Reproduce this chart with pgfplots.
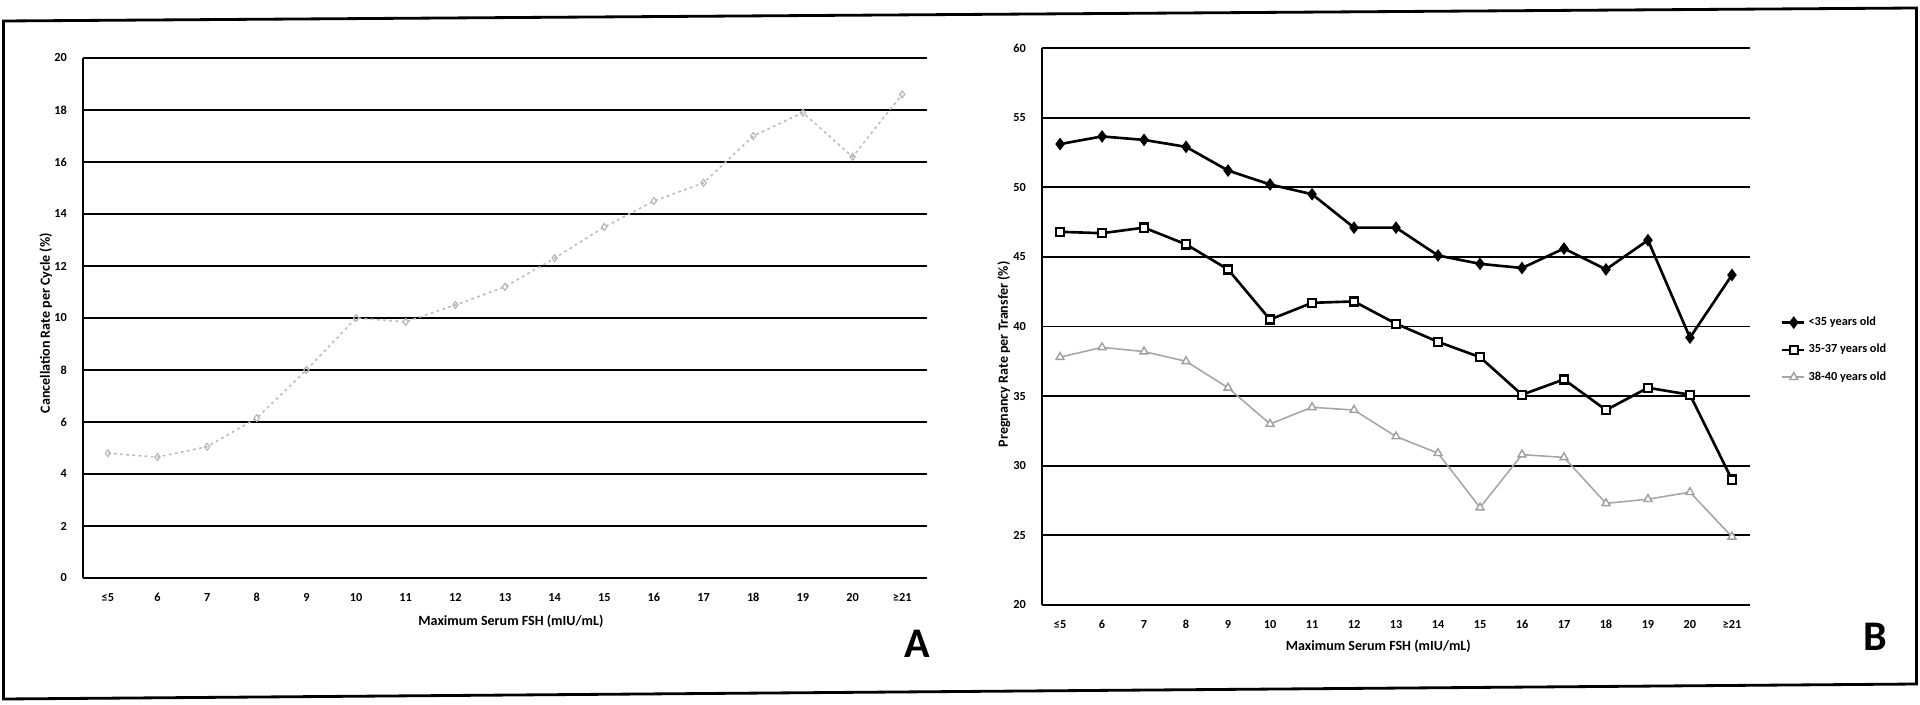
\documentclass[border=0pt]{standalone}
\usepackage{fontspec}
\setmainfont{Carlito}
\usepackage{pgfplots}
\pgfplotsset{compat=1.18}

\pgfplotsset{
  panel/.style={
    scale only axis,
    axis y line=left, axis x line=bottom,
    axis line style={-, line width=1.1pt},
    ymajorgrids, grid style={black, line width=1.1pt},
    major tick length=0pt,
    xtick={0,...,16},
    xticklabels={≤5,6,7,8,9,10,11,12,13,14,15,16,17,18,19,20,≥21},
    tick label style={font=\bfseries\fontsize{7}{8}\selectfont},
    xticklabel style={yshift=-0.18cm},
    yticklabel style={xshift=-0.2cm},
    label style={font=\bfseries\fontsize{8}{9}\selectfont},
    /pgf/number format/assume math mode=true,
    xlabel={Maximum Serum FSH (mIU/mL)},
  }
}

\begin{document}
\begin{tikzpicture}
\path[use as bounding box] (0,0) rectangle (38.4cm,14.08cm);
\draw[line width=1.6pt] (0.07cm,13.66cm) -- (38.33cm,13.92cm) -- (38.33cm,0.4cm) -- (0.07cm,0.1cm) -- cycle;

% panel A
\begin{axis}[panel,
  at={(1.66cm,2.52cm)}, anchor=south west,
  width=16.88cm, height=10.4cm,
  xmin=-0.5, xmax=16.5, ymin=0, ymax=20,
  ytick={0,2,...,20},
  ylabel={Cancellation Rate per Cycle (\%)},
  ylabel style={at={(axis description cs:-0.044,0.49)}, anchor=center},
  xlabel style={at={(axis description cs:0.507,-0.083)}, anchor=center},
]
\addplot[gray!55, line width=0.9pt, dash pattern=on 1.5pt off 2pt,
  mark=diamond, mark size=2pt, mark options={solid, gray!60, line width=0.6pt}]
  coordinates {
  (0,4.8) (1,4.65) (2,5.05) (3,6.15) (4,8.0) (5,10.0) (6,9.85) (7,10.5)
  (8,11.2) (9,12.3) (10,13.5) (11,14.5) (12,15.2) (13,17.0) (14,17.9)
  (15,16.2) (16,18.6)
};
\end{axis}
\node[font=\bfseries\fontsize{24}{24}\selectfont] at (18.34cm,1.2cm) {A};

% panel B
\begin{axis}[panel,
  at={(20.84cm,1.98cm)}, anchor=south west,
  width=14.16cm, height=11.14cm,
  xmin=-0.43, xmax=16.43, ymin=20, ymax=60,
  ytick={20,25,...,60},
  ylabel={Pregnancy Rate per Transfer (\%)},
  ylabel style={at={(axis description cs:-0.054,0.45)}, anchor=center},
  xlabel style={at={(axis description cs:0.475,-0.075)}, anchor=center},
  legend style={at={(axis description cs:1.035,0.458)}, anchor=west,
    draw=none, fill=none, font=\bfseries\fontsize{7}{8}\selectfont,
    row sep=0.18cm},
  legend cell align=left,
  legend image code/.code={
    \draw[#1, mark=none] (0cm,0cm) -- (0.44cm,0cm);
    \path[#1] plot coordinates {(0.24cm,0cm)};},
]
\addplot[black, line width=1.5pt, mark=diamond*, mark size=2.4pt]
  coordinates {
  (0,53.1) (1,53.65) (2,53.4) (3,52.9) (4,51.2) (5,50.2) (6,49.5) (7,47.1)
  (8,47.1) (9,45.1) (10,44.5) (11,44.2) (12,45.6) (13,44.1) (14,46.2)
  (15,39.2) (16,43.7)
};
\addlegendentry{<35 years old}
\addplot[black, line width=1.5pt, mark=square*, mark size=2.3pt,
  mark options={fill=white, line width=1.3pt}]
  coordinates {
  (0,46.8) (1,46.7) (2,47.1) (3,45.9) (4,44.1) (5,40.5) (6,41.7) (7,41.8)
  (8,40.2) (9,38.9) (10,37.8) (11,35.1) (12,36.2) (13,34.0) (14,35.6)
  (15,35.1) (16,29.0)
};
\addlegendentry{35-37 years old}
\addplot[gray!70, line width=0.9pt, mark=triangle*, mark size=2.6pt,
  mark options={fill=white, draw=gray!75, line width=0.8pt}]
  coordinates {
  (0,37.8) (1,38.5) (2,38.2) (3,37.5) (4,35.6) (5,33.0) (6,34.2) (7,34.0)
  (8,32.1) (9,30.9) (10,27.0) (11,30.8) (12,30.6) (13,27.3) (14,27.6)
  (15,28.1) (16,24.9)
};
\addlegendentry{38-40 years old}
\end{axis}
\node[font=\bfseries\fontsize{24}{24}\selectfont] at (37.5cm,1.34cm) {B};
\end{tikzpicture}
\end{document}
